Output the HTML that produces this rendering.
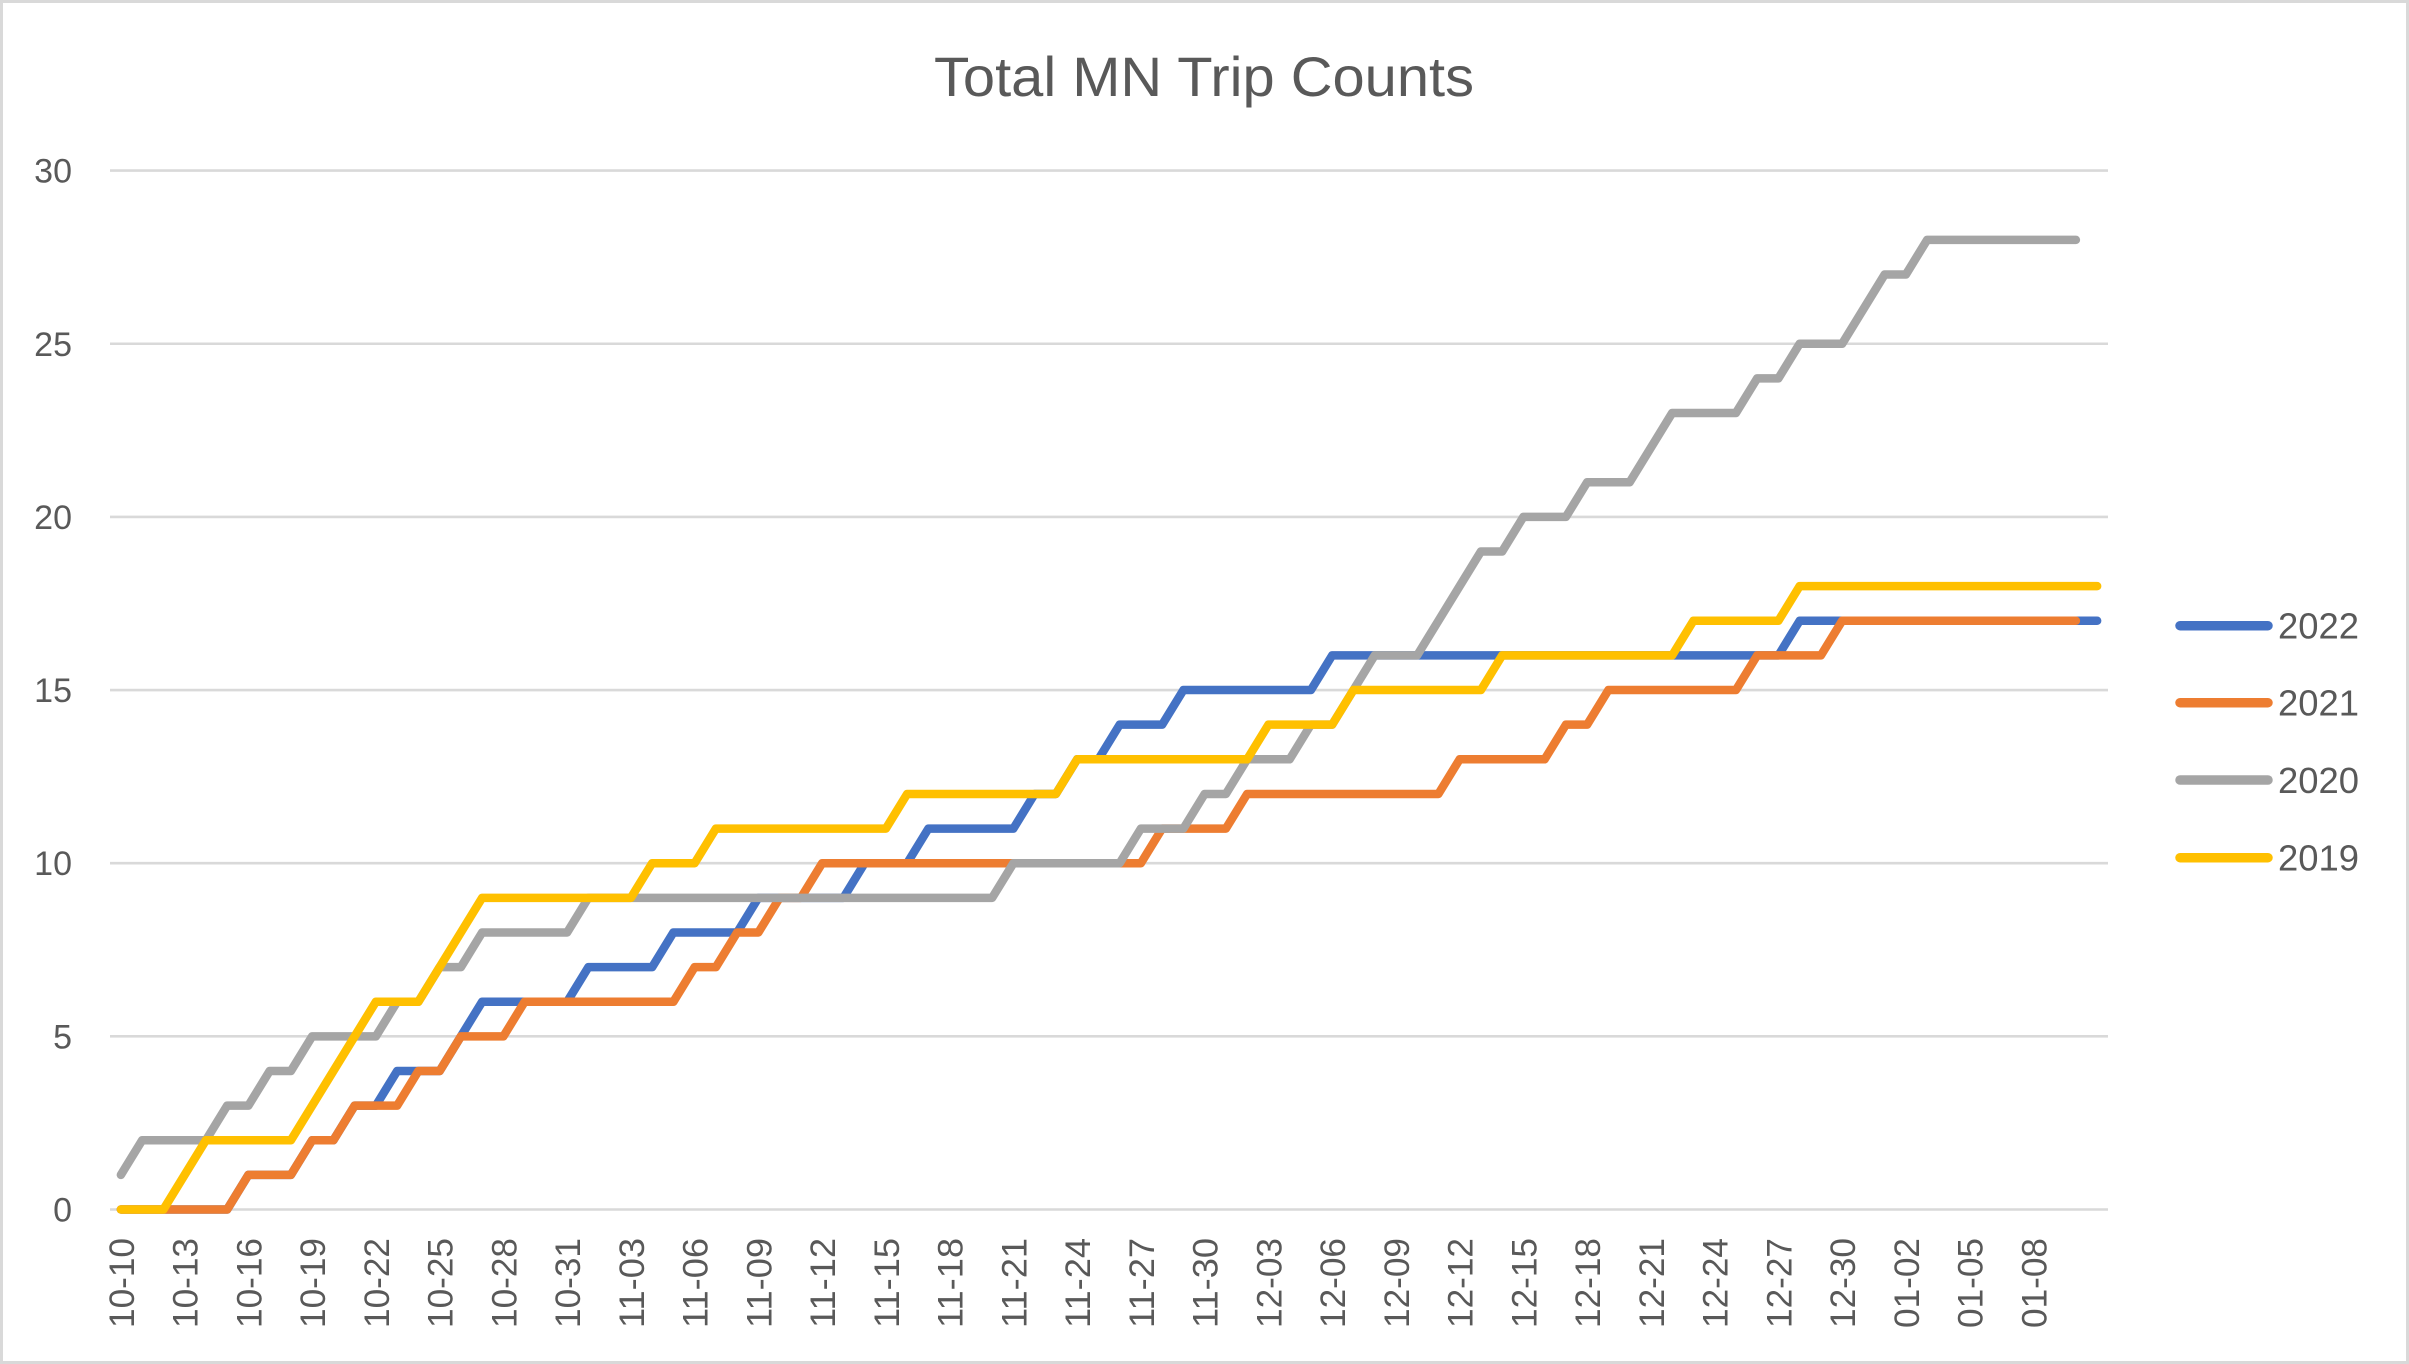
<!DOCTYPE html>
<html>
<head>
<meta charset="utf-8">
<style>
html,body{margin:0;padding:0;background:#fff;}
svg{display:block;}
</style>
</head>
<body>
<svg width="2409" height="1364" viewBox="0 0 2409 1364" xmlns="http://www.w3.org/2000/svg" font-family="'Liberation Sans', Arial, sans-serif" fill="#595959">
  <rect x="0" y="0" width="2409" height="1364" fill="#ffffff"/>
  <rect x="1.5" y="1.5" width="2406" height="1361" fill="none" stroke="#d9d9d9" stroke-width="3"/>

  <!-- Title -->
  <text x="1204" y="96" font-size="56" text-anchor="middle" textLength="540" lengthAdjust="spacingAndGlyphs">Total MN Trip Counts</text>

  <!-- Gridlines -->
  <g stroke="#d9d9d9" stroke-width="2.6">
    <line x1="110" y1="1209.5" x2="2108" y2="1209.5"/>
    <line x1="110" y1="1036.35" x2="2108" y2="1036.35"/>
    <line x1="110" y1="863.2" x2="2108" y2="863.2"/>
    <line x1="110" y1="690.05" x2="2108" y2="690.05"/>
    <line x1="110" y1="516.9" x2="2108" y2="516.9"/>
    <line x1="110" y1="343.75" x2="2108" y2="343.75"/>
    <line x1="110" y1="170.6" x2="2108" y2="170.6"/>
  </g>

  <!-- Y labels -->
  <g font-size="34" text-anchor="end">
    <text x="72" y="1221.5">0</text>
    <text x="72" y="1048.35">5</text>
    <text x="72" y="875.2">10</text>
    <text x="72" y="702.05">15</text>
    <text x="72" y="528.9">20</text>
    <text x="72" y="355.75">25</text>
    <text x="72" y="182.6">30</text>
  </g>

  <!-- X labels -->
  <g font-size="35">
    <text transform="translate(133.9,1328) rotate(-90)" textLength="90" lengthAdjust="spacingAndGlyphs">10-10</text>
    <text transform="translate(197.65,1328) rotate(-90)" textLength="90" lengthAdjust="spacingAndGlyphs">10-13</text>
    <text transform="translate(261.4,1328) rotate(-90)" textLength="90" lengthAdjust="spacingAndGlyphs">10-16</text>
    <text transform="translate(325.15,1328) rotate(-90)" textLength="90" lengthAdjust="spacingAndGlyphs">10-19</text>
    <text transform="translate(388.9,1328) rotate(-90)" textLength="90" lengthAdjust="spacingAndGlyphs">10-22</text>
    <text transform="translate(452.65,1328) rotate(-90)" textLength="90" lengthAdjust="spacingAndGlyphs">10-25</text>
    <text transform="translate(516.4,1328) rotate(-90)" textLength="90" lengthAdjust="spacingAndGlyphs">10-28</text>
    <text transform="translate(580.15,1328) rotate(-90)" textLength="90" lengthAdjust="spacingAndGlyphs">10-31</text>
    <text transform="translate(643.9,1328) rotate(-90)" textLength="90" lengthAdjust="spacingAndGlyphs">11-03</text>
    <text transform="translate(707.65,1328) rotate(-90)" textLength="90" lengthAdjust="spacingAndGlyphs">11-06</text>
    <text transform="translate(771.4,1328) rotate(-90)" textLength="90" lengthAdjust="spacingAndGlyphs">11-09</text>
    <text transform="translate(835.15,1328) rotate(-90)" textLength="90" lengthAdjust="spacingAndGlyphs">11-12</text>
    <text transform="translate(898.9,1328) rotate(-90)" textLength="90" lengthAdjust="spacingAndGlyphs">11-15</text>
    <text transform="translate(962.65,1328) rotate(-90)" textLength="90" lengthAdjust="spacingAndGlyphs">11-18</text>
    <text transform="translate(1026.4,1328) rotate(-90)" textLength="90" lengthAdjust="spacingAndGlyphs">11-21</text>
    <text transform="translate(1090.15,1328) rotate(-90)" textLength="90" lengthAdjust="spacingAndGlyphs">11-24</text>
    <text transform="translate(1153.9,1328) rotate(-90)" textLength="90" lengthAdjust="spacingAndGlyphs">11-27</text>
    <text transform="translate(1217.65,1328) rotate(-90)" textLength="90" lengthAdjust="spacingAndGlyphs">11-30</text>
    <text transform="translate(1281.4,1328) rotate(-90)" textLength="90" lengthAdjust="spacingAndGlyphs">12-03</text>
    <text transform="translate(1345.15,1328) rotate(-90)" textLength="90" lengthAdjust="spacingAndGlyphs">12-06</text>
    <text transform="translate(1408.9,1328) rotate(-90)" textLength="90" lengthAdjust="spacingAndGlyphs">12-09</text>
    <text transform="translate(1472.65,1328) rotate(-90)" textLength="90" lengthAdjust="spacingAndGlyphs">12-12</text>
    <text transform="translate(1536.4,1328) rotate(-90)" textLength="90" lengthAdjust="spacingAndGlyphs">12-15</text>
    <text transform="translate(1600.15,1328) rotate(-90)" textLength="90" lengthAdjust="spacingAndGlyphs">12-18</text>
    <text transform="translate(1663.9,1328) rotate(-90)" textLength="90" lengthAdjust="spacingAndGlyphs">12-21</text>
    <text transform="translate(1727.65,1328) rotate(-90)" textLength="90" lengthAdjust="spacingAndGlyphs">12-24</text>
    <text transform="translate(1791.4,1328) rotate(-90)" textLength="90" lengthAdjust="spacingAndGlyphs">12-27</text>
    <text transform="translate(1855.15,1328) rotate(-90)" textLength="90" lengthAdjust="spacingAndGlyphs">12-30</text>
    <text transform="translate(1918.9,1328) rotate(-90)" textLength="90" lengthAdjust="spacingAndGlyphs">01-02</text>
    <text transform="translate(1982.65,1328) rotate(-90)" textLength="90" lengthAdjust="spacingAndGlyphs">01-05</text>
    <text transform="translate(2046.4,1328) rotate(-90)" textLength="90" lengthAdjust="spacingAndGlyphs">01-08</text>
  </g>

  <!-- Series: data coords (day, value) -->
  <g transform="translate(120.9,1209.5) scale(21.25,-34.63)" fill="none" stroke-width="8.5" stroke-linejoin="round" stroke-linecap="round">
    <!-- 2022 -->
    <polyline vector-effect="non-scaling-stroke" stroke="#4472C4" points="0,0 5,0 6,1 8,1 9,2 10,2 11,3 12,3 13,4 15,4 16,5 17,6 21,6 22,7 25,7 26,8 29,8 30,9 34,9 35,10 37,10 38,11 42,11 43,12 44,12 45,13 46,13 47,14 49,14 50,15 56,15 57,16 78,16 79,17 93,17"/>
    <!-- 2021 -->
    <polyline vector-effect="non-scaling-stroke" stroke="#ED7D31" points="0,0 5,0 6,1 8,1 9,2 10,2 11,3 13,3 14,4 15,4 16,5 18,5 19,6 26,6 27,7 28,7 29,8 30,8 31,9 32,9 33,10 48,10 49,11 52,11 53,12 62,12 63,13 67,13 68,14 69,14 70,15 76,15 77,16 80,16 81,17 92,17"/>
    <!-- 2020 -->
    <polyline vector-effect="non-scaling-stroke" stroke="#A5A5A5" points="0,1 1,2 4,2 5,3 6,3 7,4 8,4 9,5 12,5 13,6 14,6 15,7 16,7 17,8 21,8 22,9 41,9 42,10 47,10 48,11 50,11 51,12 52,12 53,13 55,13 56,14 57,14 58,15 59,16 61,16 62,17 63,18 64,19 65,19 66,20 68,20 69,21 71,21 72,22 73,23 76,23 77,24 78,24 79,25 81,25 82,26 83,27 84,27 85,28 92,28"/>
    <!-- 2019 -->
    <polyline vector-effect="non-scaling-stroke" stroke="#FFC000" points="0,0 2,0 3,1 4,2 8,2 9,3 10,4 11,5 12,6 14,6 15,7 16,8 17,9 24,9 25,10 27,10 28,11 36,11 37,12 44,12 45,13 53,13 54,14 57,14 58,15 64,15 65,16 73,16 74,17 78,17 79,18 93,18"/>
  </g>

  <!-- Legend -->
  <g stroke-width="9.5" stroke-linecap="round">
    <line x1="2180" y1="625.7" x2="2268" y2="625.7" stroke="#4472C4"/>
    <line x1="2180" y1="702.7" x2="2268" y2="702.7" stroke="#ED7D31"/>
    <line x1="2180" y1="780" x2="2268" y2="780" stroke="#A5A5A5"/>
    <line x1="2180" y1="857.7" x2="2268" y2="857.7" stroke="#FFC000"/>
  </g>
  <g font-size="36">
    <text x="2278" y="638.5" textLength="81" lengthAdjust="spacingAndGlyphs">2022</text>
    <text x="2278" y="715.5" textLength="81" lengthAdjust="spacingAndGlyphs">2021</text>
    <text x="2278" y="793" textLength="81" lengthAdjust="spacingAndGlyphs">2020</text>
    <text x="2278" y="870.5" textLength="81" lengthAdjust="spacingAndGlyphs">2019</text>
  </g>
</svg>
</body>
</html>
